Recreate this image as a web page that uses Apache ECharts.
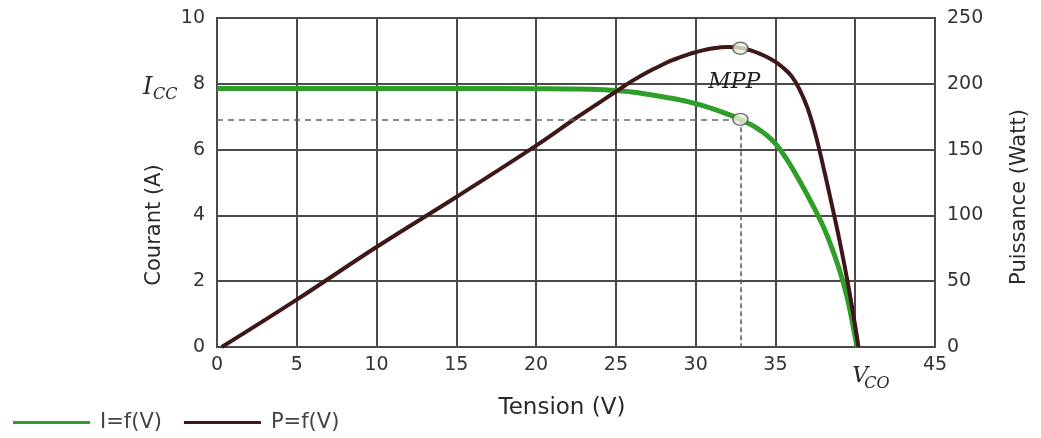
<!DOCTYPE html>
<html>
<head>
<meta charset="utf-8">
<script src="https://cdn.jsdelivr.net/npm/echarts@6/dist/echarts.min.js"></script>
<style>html,body{margin:0;padding:0;background:#fff}#c{width:1041px;height:438px}</style>
</head>
<body>
<div id="c"></div>
<script>
// ---- data ----
const xTicks = [0, 5, 10, 15, 20, 25, 30, 35, 40, 45];
const leftTicks = [0, 2, 4, 6, 8, 10];
const rightTicks = [0, 50, 100, 150, 200, 250];

const voltageI = [0, 5, 10, 15, 20, 22.5, 25, 26, 27, 28, 28.5, 29, 29.5, 30, 30.5, 31, 31.5, 32, 32.5, 33, 33.5, 34, 34.5, 35, 35.5, 36, 36.5, 37, 37.5, 38, 38.5, 39, 39.5, 40, 40.1];
const current  = [7.86, 7.86, 7.86, 7.86, 7.85, 7.84, 7.80, 7.75, 7.68, 7.60, 7.56, 7.51, 7.46, 7.40, 7.33, 7.25, 7.17, 7.08, 6.98, 6.87, 6.75, 6.60, 6.42, 6.18, 5.86, 5.48, 5.06, 4.62, 4.16, 3.66, 3.06, 2.36, 1.50, 0.30, 0];

const voltageP = [0.3, 5, 10, 15, 20, 22.5, 25, 26, 27, 28, 28.5, 29, 29.5, 30, 30.5, 31, 31.5, 32, 32.5, 33, 33.5, 34, 34.5, 35, 35.5, 36, 36.5, 37, 37.5, 38, 38.5, 39, 39.5, 40, 40.2];
const power    = [0, 36, 76, 114, 153, 174, 194, 202, 209, 215, 217.8, 220, 222.2, 224, 225.6, 226.8, 227.6, 228, 227.8, 226.8, 225.2, 223, 220.2, 216.6, 212, 206, 196, 182, 162, 137, 110, 82, 51, 16, 0];

const mppV = 32.8, mppI = 6.92, mppP = 227;
const icc = 7.86, vco = 40;
const seriesNames = ['I=f(V)', 'P=f(V)'];

const GREEN = '#2f9e2a', BROWN = '#3e1818', GRIDC = '#4a4a4a', TXT = '#2a2a2a';

const chart = echarts.init(document.getElementById('c'));
const labelFont = { fontFamily: 'DejaVu Sans', fontSize: 19, color: '#333' };

const option = {
  animation: false,
  backgroundColor: '#fff',
  grid: { left: 217, right: 106, top: 18, bottom: 91, show: true, borderColor: GRIDC, borderWidth: 2 },
  legend: {
    left: 8, top: 407, icon: 'rect', itemWidth: 77, itemHeight: 3, itemGap: 22,
    data: seriesNames,
    textStyle: { fontFamily: 'DejaVu Sans', fontSize: 21, color: '#444', padding: [0, 0, 0, 5] }
  },
  xAxis: {
    type: 'value', min: xTicks[0], max: xTicks[xTicks.length - 1], interval: 5,
    axisLine: { show: true, lineStyle: { color: GRIDC, width: 2 } },
    axisTick: { show: false },
    splitLine: { show: true, lineStyle: { color: GRIDC, width: 2 } },
    axisLabel: Object.assign({ margin: 9, formatter: v => (v === vco ? '' : String(v)) }, labelFont)
  },
  yAxis: [
    {
      type: 'value', min: leftTicks[0], max: leftTicks[leftTicks.length - 1], interval: 2,
      axisLine: { show: true, lineStyle: { color: GRIDC, width: 2 } },
      axisTick: { show: false },
      splitLine: { show: true, lineStyle: { color: GRIDC, width: 2 } },
      axisLabel: Object.assign({ margin: 12 }, labelFont)
    },
    {
      type: 'value', min: rightTicks[0], max: rightTicks[rightTicks.length - 1], interval: 50,
      position: 'right',
      axisLine: { show: true, lineStyle: { color: GRIDC, width: 2 } },
      axisTick: { show: false },
      splitLine: { show: false },
      axisLabel: Object.assign({ margin: 12 }, labelFont)
    }
  ],
  series: [
    {
      name: seriesNames[0], type: 'line', yAxisIndex: 0, smooth: 0.4, showSymbol: false,
      data: voltageI.map((v, i) => [v, current[i]]),
      lineStyle: { color: GREEN, width: 5 }, itemStyle: { color: GREEN }, z: 3,
      markLine: {
        silent: true, symbol: 'none', label: { show: false },
        lineStyle: { color: '#666', width: 1.5, type: [6, 5] },
        data: [
          [{ coord: [0, mppI] }, { coord: [mppV, mppI] }],
          [{ coord: [mppV, mppI], lineStyle: { type: [5, 3], color: '#555' } }, { coord: [mppV, 0] }]
        ]
      }
    },
    {
      name: seriesNames[1], type: 'line', yAxisIndex: 1, smooth: 0.4, showSymbol: false,
      data: voltageP.map((v, i) => [v, power[i]]),
      lineStyle: { color: BROWN, width: 4 }, itemStyle: { color: BROWN }, z: 4
    },
    {
      name: 'mppI', type: 'scatter', yAxisIndex: 0, data: [[mppV, mppI]],
      symbol: 'circle', symbolSize: [15, 12], z: 6,
      itemStyle: { color: '#eef2dc', borderColor: '#555', borderWidth: 1.5 }
    },
    {
      name: 'mppP', type: 'scatter', yAxisIndex: 1, data: [[mppV, mppP]],
      symbol: 'circle', symbolSize: [15, 12], z: 6,
      itemStyle: { color: '#eef2dc', borderColor: '#555', borderWidth: 1.5 }
    }
  ]
};
chart.setOption(option);

// annotations anchored on data coordinates
const pIcc = chart.convertToPixel({ xAxisIndex: 0, yAxisIndex: 0 }, [0, icc]);
const pVco = chart.convertToPixel({ xAxisIndex: 0, yAxisIndex: 0 }, [vco, 0]);
const pMpp = chart.convertToPixel({ xAxisIndex: 0, yAxisIndex: 1 }, [mppV, mppP]);
const serif = 'DejaVu Serif';

chart.setOption({
  graphic: [
    { type: 'text', x: pIcc[0] - 74, y: pIcc[1] - 1, style: { text: 'I', font: 'italic 24px "' + serif + '"', fill: TXT, textAlign: 'left', textVerticalAlign: 'middle' } },
    { type: 'text', x: pIcc[0] - 64, y: pIcc[1] + 6, style: { text: 'CC', font: 'italic 16px "' + serif + '"', fill: TXT, textAlign: 'left', textVerticalAlign: 'middle' } },
    { type: 'text', x: pVco[0] - 3, y: pVco[1] + 29, style: { text: 'V', font: 'italic 22px "' + serif + '"', fill: TXT, textAlign: 'left', textVerticalAlign: 'middle' } },
    { type: 'text', x: pVco[0] + 9, y: pVco[1] + 37, style: { text: 'CO', font: 'italic 16px "' + serif + '"', fill: TXT, textAlign: 'left', textVerticalAlign: 'middle' } },
    { type: 'text', x: pMpp[0] - 6, y: pMpp[1] + 34, style: { text: 'MPP', font: 'italic 22px "' + serif + '"', fill: '#222', textAlign: 'center', textVerticalAlign: 'middle' } },
    { type: 'text', x: 155, y: 225, rotation: Math.PI / 2, style: { text: 'Courant (A)', font: '21px "DejaVu Sans"', fill: TXT, textAlign: 'center', textVerticalAlign: 'middle' } },
    { type: 'text', x: 1020, y: 197, rotation: Math.PI / 2, style: { text: 'Puissance (Watt)', font: '21px "DejaVu Sans"', fill: TXT, textAlign: 'center', textVerticalAlign: 'middle' } },
    { type: 'text', x: 562, y: 408, style: { text: 'Tension (V)', font: '23px "DejaVu Sans"', fill: TXT, textAlign: 'center', textVerticalAlign: 'middle' } }
  ]
});
</script>
</body>
</html>
